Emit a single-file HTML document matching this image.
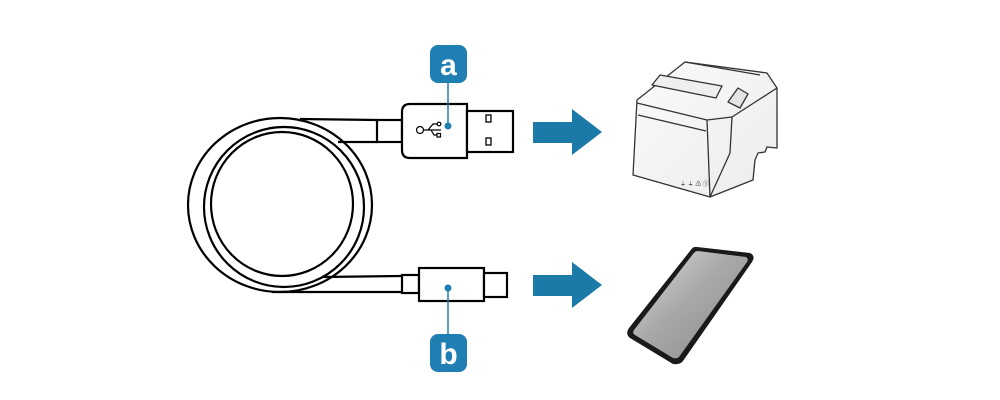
<!DOCTYPE html>
<html><head><style>html,body{margin:0;padding:0;background:#fff}svg{display:block}</style></head>
<body>
<svg width="1000" height="400" viewBox="0 0 1000 400" xmlns="http://www.w3.org/2000/svg">
<defs>
<linearGradient id="scr" x1="0" y1="0" x2="1" y2="1">
<stop offset="0" stop-color="#dcdcdc"/><stop offset="0.45" stop-color="#a9a9a9"/><stop offset="1" stop-color="#8a8a8a"/>
</linearGradient>
<linearGradient id="pr" x1="0" y1="0" x2="1" y2="1">
<stop offset="0" stop-color="#fafafa"/><stop offset="1" stop-color="#ececec"/>
</linearGradient>
</defs>
<g fill="none" stroke="#000" stroke-width="2.2">
<!-- coil -->
<ellipse cx="280" cy="205" rx="92" ry="87"/>
<ellipse cx="284" cy="207" rx="80" ry="80"/>
<ellipse cx="282" cy="204" rx="71" ry="72"/>
<!-- top cable -->
<path d="M300 119 L377 120 M338 142 L377 142" />
<rect x="377" y="120" width="25" height="22" fill="#fff"/>
<path d="M410 104 H467 V158 H410 Q402 158 402 150 V112 Q402 104 410 104 Z" fill="#fff"/>
<rect x="467" y="111" width="46" height="41" fill="#fff"/>
<rect x="486" y="115" width="5" height="7" stroke-width="1.3"/>
<rect x="486" y="138" width="5" height="7" stroke-width="1.3"/>
<!-- bottom cable -->
<path d="M322 277 L402 276 M272 292 L402 292"/>
<rect x="402" y="275" width="17" height="18" fill="#fff"/>
<rect x="419" y="268" width="65" height="33" fill="#fff"/>
<rect x="484" y="273" width="23" height="24" fill="#fff"/>
</g>
<!-- usb symbol -->
<g fill="none" stroke="#000" stroke-width="1.2">
<circle cx="420" cy="130" r="3.5"/>
<path d="M424 130 H441 M428 130 L433 124 H437 M431 130 L434 135 H437"/>
<circle cx="439" cy="124" r="1.8"/>
<rect x="437" y="133.5" width="3.5" height="3.5"/>
</g>
<!-- badges -->
<g fill="#1f7fb3">
<line x1="448" y1="83" x2="448" y2="126" stroke="#1f7fb3" stroke-width="1.5"/>
<circle cx="448" cy="126" r="3.5"/>
<rect x="430" y="45" width="37" height="38" rx="8"/>
<line x1="448" y1="288" x2="448" y2="334" stroke="#1f7fb3" stroke-width="1.5"/>
<circle cx="448" cy="288" r="3.5"/>
<rect x="430" y="334" width="37" height="38" rx="8"/>
</g>
<text x="448.5" y="75" font-family="Liberation Sans, sans-serif" font-weight="bold" font-size="30" fill="#fff" text-anchor="middle">a</text>
<text x="448.5" y="364" font-family="Liberation Sans, sans-serif" font-weight="bold" font-size="30" fill="#fff" text-anchor="middle">b</text>
<!-- arrows -->
<g fill="#1c7aa8">
<polygon points="533,122 572,122 572,109 602,132 572,155 572,143 533,143"/>
<polygon points="533,275 572,275 572,262 602,285 572,308 572,296 533,296"/>
</g>
<!-- printer -->
<g stroke="#333" stroke-width="1.3" stroke-linejoin="round" fill="url(#pr)">
<polygon points="637,100 685,62 767,73 777,88 777,148 767,147 765,152 758,153 755,160 753,180 710,197 633,175"/>
<path d="M637,103 L707,120 L732,117 L777,88 M707,120 L710,197 M732,117 L730,153 L710,197 M685,62 L760,75" fill="none"/>
<path d="M652,85 L660,75 L722,86 L716,98 Z" fill="#eee"/>
<path d="M728,102 L738,88 L748,94 L740,108 Z" fill="#e4e4e4"/>
<path d="M638,115 L706,131" fill="none"/>
</g>
<text x="680" y="186" font-family="Liberation Sans, sans-serif" font-size="6" fill="#333">⏚ ⏚ ⚠ ⓢ</text>
<!-- phone -->
<path d="M697,247 L750,253 Q756,256 752,262 L683,361 Q680,365 673,364 L630,338 Q625,334 629,328 L690,251 Q693,246 697,247 Z" fill="#1a1a1a"/>
<path d="M698,251 L746,257 Q749,259 747,262 L679,357 Q677,359 673,358 L635,335 Q632,333 634,330 L693,254 Q695,251 698,251 Z" fill="url(#scr)"/>
</svg>
</body></html>
